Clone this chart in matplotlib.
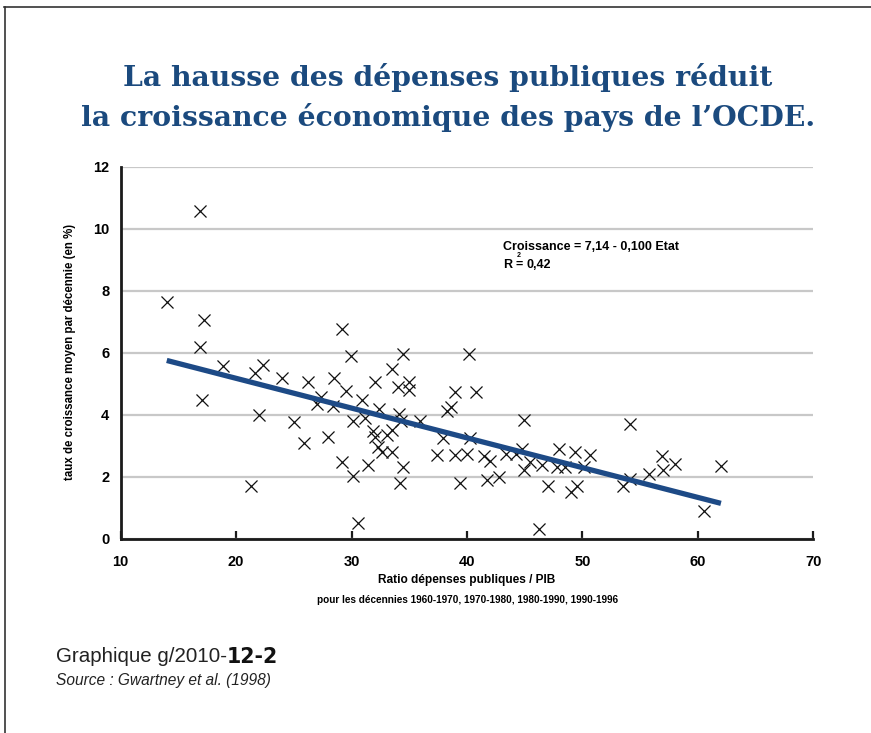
import matplotlib
matplotlib.use("Agg")
import matplotlib.pyplot as plt
from matplotlib.lines import Line2D

# ---- data ----
depenses = [
    14.0, 16.9, 17.2, 16.9, 17.05, 18.9, 21.3, 21.6, 22.3, 22.0,
    24.0, 25.0, 25.9, 26.2, 27.05, 27.4, 27.95, 28.5, 28.4, 29.2,
    29.55, 29.2, 29.95, 30.1, 30.1, 30.6,
    34.45, 40.2, 33.5, 32.05, 34.06, 35.0, 35.0, 30.9, 32.4, 31.15,
    34.15, 34.27, 35.94, 31.9, 32.05, 33.06, 33.49, 32.33, 32.63, 33.49,
    31.46, 34.44, 34.2, 38.3, 38.6, 38.98, 40.75, 37.96, 40.28, 37.39,
    38.98, 39.99, 41.45, 42.01, 41.72, 42.79, 39.41, 44.98, 43.4, 44.22,
    44.76, 44.98, 45.5, 46.49, 46.98, 46.26, 48.0, 47.79, 48.51, 49.33,
    49.52, 49.05,
    54.08, 50.68, 50.16, 53.51, 54.14, 55.73, 56.89, 56.98, 58.04, 62.03,
    60.5,
]
croissance = [
    7.65, 10.57, 7.06, 6.17, 4.48, 5.56, 1.69, 5.34, 5.59, 3.98,
    5.18, 3.78, 3.09, 5.07, 4.35, 4.57, 3.28, 5.17, 4.27, 6.77,
    4.78, 2.49, 5.88, 3.8, 2.01, 0.51,
    5.97, 5.97, 5.48, 5.06, 4.88, 5.06, 4.79, 4.47, 4.19, 3.9,
    4.01, 3.81, 3.79, 3.48, 3.28, 3.33, 3.5, 2.97, 2.8, 2.8,
    2.38, 2.31, 1.79, 4.13, 4.25, 4.73, 4.73, 3.26, 3.26, 2.69,
    2.7, 2.73, 2.68, 2.51, 1.9, 1.99, 1.79, 3.84, 2.72, 2.72,
    2.9, 2.21, 2.49, 2.39, 1.69, 0.3, 2.88, 2.31, 2.31, 2.8,
    1.71, 1.5,
    3.69, 2.69, 2.3, 1.69, 1.91, 2.1, 2.66, 2.21, 2.4, 2.34,
    0.9,
]
fit_x = [14.0, 62.0]
fit_y = [5.75, 1.14]

x_ticks = [10, 20, 30, 40, 50, 60, 70]
y_ticks = [0, 2, 4, 6, 8, 10, 12]

title_lines = ["La hausse des dépenses publiques réduit",
               "la croissance économique des pays de l’OCDE."]
xlabel = "Ratio dépenses publiques / PIB"
xlabel2 = "pour les décennies 1960-1970, 1970-1980, 1980-1990, 1990-1996"
ylabel = "taux de croissance moyen par décennie (en %)"
eq_text = "Croissance = 7,14 - 0,100 Etat"

# ---- figure ----
plt.rcParams['font.family'] = ['Liberation Sans', 'DejaVu Sans']
W, H = 871, 733
fig = plt.figure(figsize=(W / 100, H / 100), dpi=100)
fig.patch.set_facecolor("white")

ax = fig.add_axes([120.6 / W, 1 - 538.7 / H, (813.3 - 120.6) / W, (538.7 - 166.7) / H])
ax.set_xlim(10, 70)
ax.set_ylim(0, 12)

ax.yaxis.grid(True, color="#c8c8c8", linewidth=1.6)
ax.set_axisbelow(True)
for s in ["top", "right"]:
    ax.spines[s].set_visible(False)
for s in ["left", "bottom"]:
    ax.spines[s].set_linewidth(2.0)
    ax.spines[s].set_color("#1a1a1a")

ax.set_xticks(x_ticks)
ax.set_yticks(y_ticks)
ax.set_xticklabels([str(v) for v in x_ticks], fontweight="bold", fontsize=10.5)
ax.set_yticklabels([str(v) for v in y_ticks], fontweight="bold", fontsize=10.5)
ax.tick_params(axis="x", direction="in", length=6, width=1.6, color="#1a1a1a", pad=12)
ax.tick_params(axis="y", length=0, pad=8)

ax.scatter(depenses, croissance, marker="x", s=75, linewidths=0.9, color="#111111", zorder=3)
ax.plot(fit_x, fit_y, color="#1d4a86", linewidth=3.8, solid_capstyle="butt", zorder=4)

ax.text(43.15, 9.41, eq_text, fontsize=9, fontweight="bold", ha="left", va="center")
ax.text(43.15, 8.83, "R", fontsize=9, fontweight="bold", ha="left", va="center")
ax.text(44.2, 8.83, "=", fontsize=9, fontweight="bold", ha="left", va="center")
ax.text(45.2, 8.83, "0,42", fontsize=9, fontweight="bold", ha="left", va="center")
ax.text(44.35, 9.14, "2", fontsize=5, fontweight="bold", ha="left", va="center")

# axis labels (placed in figure pixels)
fig.text(467 / W, 1 - 580 / H, xlabel, fontsize=8.6, fontweight="bold", ha="center", va="center")
fig.text(468 / W, 1 - 600 / H, xlabel2, fontsize=7.2, fontweight="bold", ha="center", va="center")
fig.text(70 / W, 1 - 352 / H, ylabel, fontsize=8.3, fontweight="bold", ha="center", va="center",
         rotation=90)

# title
for i, line in enumerate(title_lines):
    fig.text(448 / W, 1 - (78 + 40 * i) / H, line, fontsize=20.3, fontweight="heavy",
             family=["DejaVu Serif"], color="#1b4a7e", ha="center", va="center")

# footer
t1 = fig.text(56 / W, 1 - 657 / H, "Graphique g/2010-", fontsize=14.8, ha="left", va="center",
              color="#222222")
fig.canvas.draw()
bb = t1.get_window_extent()
fig.text(bb.x1 / W, 1 - 657 / H, "12-2", fontsize=14.8, fontweight="heavy", family=["DejaVu Sans"],
         ha="left", va="center", color="#111111")
fig.text(56 / W, 1 - 680 / H, "Source : Gwartney et al. (1998)", fontsize=11.2, style="italic",
         ha="left", va="center", color="#222222")

# frame lines
fig.add_artist(Line2D([4 / W, 1], [1 - 6.5 / H, 1 - 6.5 / H], transform=fig.transFigure,
                      color="#333333", linewidth=1.2))
fig.add_artist(Line2D([5 / W, 5 / W], [0, 1 - 6.5 / H], transform=fig.transFigure,
                      color="#333333", linewidth=1.2))

fig.savefig("out.png", dpi=100)
